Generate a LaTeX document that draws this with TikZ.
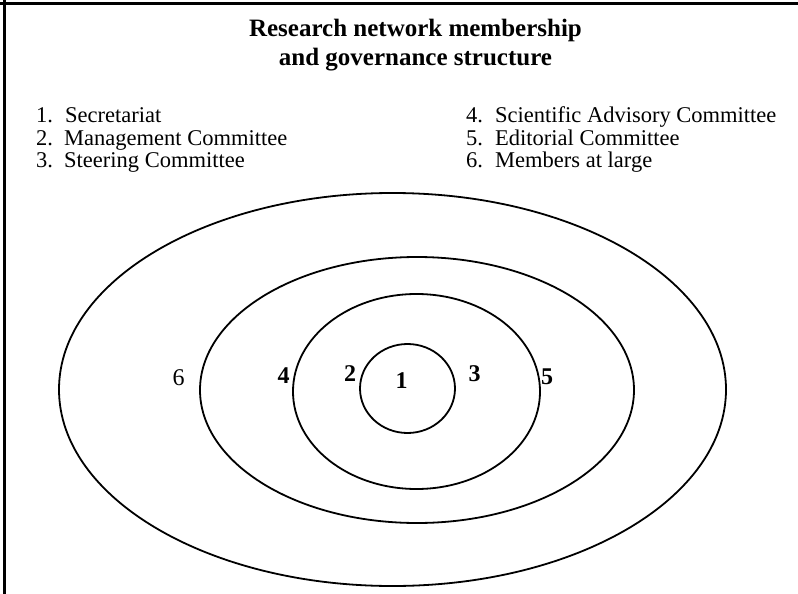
\documentclass[tikz,border=0pt]{standalone}
\usepackage{fontspec}
\setmainfont{Liberation Serif}
\begin{document}
\begin{tikzpicture}[x=1pt,y=-1pt,
  ring/.style={line width=1.8pt},
  frameline/.style={line width=3pt},
  titletext/.style={font=\fontsize{25}{29}\selectfont\bfseries, align=center, inner sep=0pt},
  listtext/.style={font=\fontsize{22.5}{22.5}\selectfont, anchor=base west, inner sep=0pt},
  numlabel/.style={font=\fontsize{24}{24}\selectfont\bfseries, anchor=base, inner sep=0pt},
  plainlabel/.style={font=\fontsize{24}{24}\selectfont, anchor=base, inner sep=0pt}]
\useasboundingbox (0,0) rectangle (798,594);
% frame (top and left only)
\draw[frameline] (0,3.8) -- (798,3.8);
\draw[frameline] (4.8,0) -- (4.8,594);
% title
\node[titletext, anchor=base] (t1) at (415.5,37) {Research network membership};
\node[titletext, anchor=base] (t2) at (415.5,66) {and governance structure};
% list left
\node[listtext] (n1) at (36,122.7) {1.};
\node[listtext] (l1) at (65,122.7) {Secretariat};
\node[listtext] (n2) at (36,145.2) {2.};
\node[listtext] (l2) at (64,145.2) {Management Committee};
\node[listtext] (n3) at (36,167.7) {3.};
\node[listtext] (l3) at (64,167.7) {Steering Committee};
% list right
\node[listtext] (n4) at (466,122.7) {4.};
\node[listtext] (l4) at (495,122.7) {Scientific Advisory Committee};
\node[listtext] (n5) at (466,145.2) {5.};
\node[listtext] (l5) at (495,145.2) {Editorial Committee};
\node[listtext] (n6) at (466,167.7) {6.};
\node[listtext] (l6) at (495,167.7) {Members at large};
% ellipses
\draw[ring] (392.5,389.5) ellipse [x radius=333.5pt, y radius=196.5pt];
\draw[ring] (417,390) ellipse [x radius=217pt, y radius=133pt];
\draw[ring] (416.5,391.5) ellipse [x radius=123.5pt, y radius=97.5pt];
\draw[ring] (407.5,388.5) ellipse [x radius=47.5pt, y radius=44.5pt];
% ring labels
\node[plainlabel] (r6) at (178.5,385) {6};
\node[numlabel] (r4) at (283.5,383) {4};
\node[numlabel] (r2) at (350,381.7) {2};
\node[numlabel] (r1) at (401.5,388.3) {1};
\node[numlabel] (r3) at (474.5,381.7) {3};
\node[numlabel] (r5) at (547,384) {5};
\end{tikzpicture}
\end{document}
